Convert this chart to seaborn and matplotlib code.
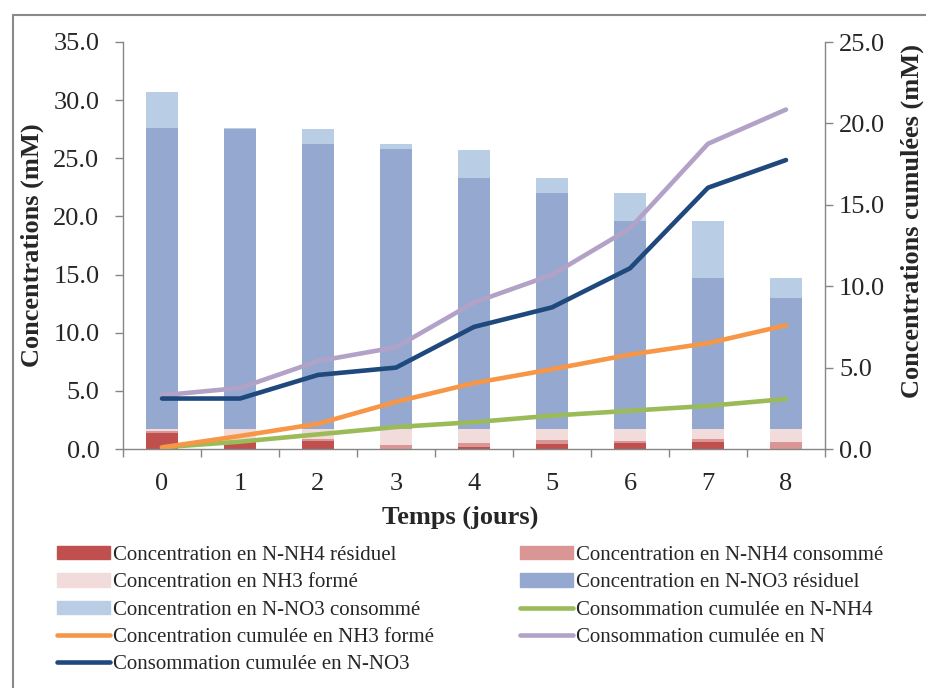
#!/usr/bin/env python3
# -*- coding: utf-8 -*-
"""
Concentrations en azote au cours du temps : barres empilées + courbes cumulées
"""

import seaborn as sns
import matplotlib.pyplot as plt
import matplotlib.patches as mpatches
from matplotlib.lines import Line2D
import numpy as np

# Données
jours = ['0', '1', '2', '3', '4', '5', '6', '7', '8']

# barres (axe gauche, mM) - segments empilés du bas vers le haut
nh4_residuel = [1.35, 0.6, 0.7, 0.0, 0.15, 0.4, 0.5, 0.6, 0.0]
nh4_consomme = [0.2, 0.1, 0.2, 0.35, 0.35, 0.4, 0.2, 0.3, 0.6]
nh3_forme = [0.15, 1.0, 0.8, 1.35, 1.2, 0.9, 1.0, 0.8, 1.1]
no3_residuel = [25.9, 25.8, 24.5, 24.1, 21.6, 20.3, 17.9, 13.0, 11.3]
no3_consomme = [3.1, 0.1, 1.3, 0.4, 2.4, 1.3, 2.4, 4.9, 1.7]

# courbes (axe droit, mM cumulés)
cumul_nh4 = [0.1, 0.45, 0.9, 1.35, 1.65, 2.05, 2.35, 2.65, 3.07]
cumul_nh3 = [0.1, 0.8, 1.55, 2.9, 4.05, 4.9, 5.8, 6.5, 7.6]
cumul_n = [3.3, 3.75, 5.4, 6.25, 9.0, 10.7, 13.55, 18.75, 20.85]
cumul_no3 = [3.1, 3.1, 4.55, 5.0, 7.5, 8.7, 11.1, 16.05, 17.75]

bar_series = [
    ('Concentration en N-NH4 résiduel', nh4_residuel, '#C0504D'),
    ('Concentration en N-NH4 consommé', nh4_consomme, '#D99694'),
    ('Concentration en NH3 formé', nh3_forme, '#F2DCDB'),
    ('Concentration en N-NO3 résiduel', no3_residuel, '#95A9D0'),
    ('Concentration en N-NO3 consommé', no3_consomme, '#B9CDE5'),
]
line_series = [
    ('Consommation cumulée en N-NH4', cumul_nh4, '#9BBB59'),
    ('Concentration cumulée en NH3 formé', cumul_nh3, '#F79646'),
    ('Consommation cumulée en N', cumul_n, '#B3A2C7'),
    ('Consommation cumulée en N-NO3', cumul_no3, '#1F497D'),
]

GREY = '#868686'

sns.set_style('white')
plt.rcParams['font.family'] = ['Liberation Serif', 'DejaVu Serif']

fig = plt.figure(figsize=(9.26, 6.88), dpi=100)
ax = fig.add_axes([123 / 926, 1 - 449 / 688, 702 / 926, 407 / 688])

# barres empilées
bottom = np.zeros(len(jours))
for label, vals, col in bar_series:
    sns.barplot(x=jours, y=vals, bottom=bottom, color=col, saturation=1,
                width=0.4, linewidth=0, errorbar=None, ax=ax)
    bottom = bottom + np.array(vals)

# courbes cumulées sur l'axe secondaire
ax2 = ax.twinx()
for label, vals, col in line_series:
    sns.lineplot(x=np.arange(len(jours)), y=vals, color=col, linewidth=3.3,
                 ax=ax2, solid_capstyle='round')

ax.set_xlim(-0.5, 8.5)
ax.set_ylim(0, 35)
ax2.set_ylim(0, 25)

ax.set_xticks(range(len(jours)))
ax.set_xticklabels(jours)
ax.set_xticks(np.arange(-0.5, 9, 1), minor=True)
ax.tick_params(axis='x', which='major', length=0, pad=17, labelsize=19)
ax.tick_params(axis='x', which='minor', length=6, width=1, color=GREY,
               direction='out', bottom=True)

ax.set_yticks(np.arange(0, 36, 5))
ax.set_yticklabels([f'{v:.1f}' for v in np.arange(0, 36, 5)])
ax.tick_params(axis='y', length=6, width=1, color=GREY, direction='out',
               left=True, pad=11, labelsize=19)
ax2.set_yticks(np.arange(0, 26, 5))
ax2.set_yticklabels([f'{v:.1f}' for v in np.arange(0, 26, 5)])
ax2.tick_params(axis='y', length=6, width=1, color=GREY, direction='out',
                right=True, pad=4, labelsize=19)

for s in ['top', 'right']:
    ax.spines[s].set_visible(False)
for s in ['top', 'left', 'bottom']:
    ax2.spines[s].set_visible(False)
for sp in [ax.spines['left'], ax.spines['bottom'], ax2.spines['right']]:
    sp.set_color(GREY)
    sp.set_linewidth(1)

ax.set_xlabel('Temps (jours)', fontsize=19, fontweight='bold', va='top')
ax.xaxis.set_label_coords(0.48, -0.14)
ax.set_ylabel('Concentrations (mM)', fontsize=19, fontweight='bold')
ax.yaxis.set_label_coords(-0.113, 0.5)
ax2.set_ylabel('Concentrations cumulées (mM)', fontsize=19, fontweight='bold')
ax2.yaxis.set_label_coords(1.108, 0.56)

# légende en deux colonnes (ordre ligne par ligne)
handles = [mpatches.Patch(color=c, label=l) for l, v, c in bar_series]
handles += [Line2D([], [], color=c, lw=3.3, label=l) for l, v, c in line_series]
order = [0, 2, 4, 6, 8, 1, 3, 5, 7]
handles = [handles[i] for i in order]
fig.legend(handles=handles, ncol=2, loc='upper left',
           bbox_to_anchor=(57 / 926, 1 - 546 / 688), frameon=False,
           fontsize=15, handlelength=2.55, handleheight=0.6,
           handletextpad=0.15, labelspacing=0.4, columnspacing=4.1,
           borderpad=0, borderaxespad=0)

# cadre du graphique
fig.add_artist(Line2D([13 / 926, 13 / 926], [0, 1 - 15 / 688],
                      transform=fig.transFigure, color='#898989', lw=1.5))
fig.add_artist(Line2D([13 / 926, 1], [1 - 15 / 688, 1 - 15 / 688],
                      transform=fig.transFigure, color='#898989', lw=1.5))

fig.savefig('out.png', dpi=100)
